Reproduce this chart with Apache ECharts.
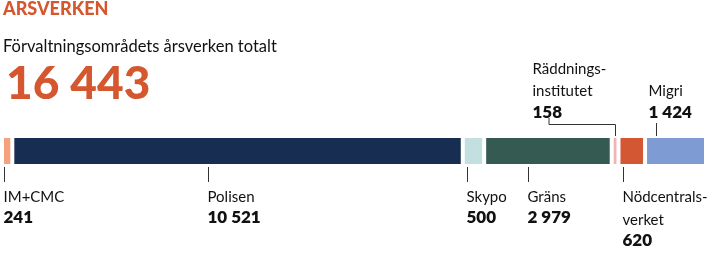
<!DOCTYPE html>
<html><head><meta charset="utf-8">
<script src="https://cdn.jsdelivr.net/npm/echarts@6/dist/echarts.min.js"></script>
<style>html,body{margin:0;padding:0;background:#fff}#c{width:708px;height:256px}</style>
</head><body><div id="c"></div>
<script>
// ---- data ----
const categories = ['IM+CMC','Polisen','Skypo','Gräns','Räddningsinstitutet','Nödcentralsverket','Migri'];
const values = [241, 10521, 500, 2979, 158, 620, 1424];
const total = 16443;
const nameLines = [['IM+CMC'],['Polisen'],['Skypo'],['Gräns'],['Räddnings-','institutet'],['Nödcentrals-','verket'],['Migri']];
const valueText = ['241','10 521','500','2 979','158','620','1 424'];
const colors = ['#f5a27c','#172d52','#c3dfdf','#345a52','#f4b3b3','#d45733','#7f9bd4'];
// ---- label layout (annotation placement) ----
const side = ['below','below','below','below','above','below','above'];
const anchorFrac = [0.2, 0.435, 0.22, 0.345, 0.5, 0.18, 0.18];
const FONT = 'Lato';

const chart = echarts.init(document.getElementById('c'));
const series = categories.map((c,i)=>({
  name: c, type:'bar', stack:'t', data:[values[i]], barWidth: 30,
  itemStyle:{color:colors[i], borderColor:'#fff', borderWidth:2},
  silent:true
}));
chart.setOption({
  animation:false,
  grid:{left:2,right:2,top:136,height:30},
  xAxis:{type:'value',min:0,max:total,show:false},
  yAxis:{type:'category',data:['a'],show:false},
  series
});

const g = [];
g.push({type:'text',left:3,top:0,style:{text:'ÅRSVERKEN',font:'900 18px '+FONT,fill:'#d4572f'}});
g.push({type:'text',left:3,top:38,style:{text:'Förvaltningsområdets årsverken totalt',font:'16.5px '+FONT,fill:'#111'}});
g.push({type:'text',left:6,top:61,style:{text:String(total).replace(/\B(?=(\d{3})+(?!\d))/g,' '),font:'900 46px '+FONT,fill:'#d4572f'}});

let cum = 0;
const lineStyle = {stroke:'#333',lineWidth:1};
values.forEach((v,i)=>{
  const x = Math.round(chart.convertToPixel({gridIndex:0},[cum + v*anchorFrac[i],0])[0]) + 0.5;
  cum += v;
  const n = nameLines[i];
  if (side[i]==='below') {
    g.push({type:'line',shape:{x1:x,y1:167,x2:x,y2:182},style:lineStyle});
    n.forEach((t,k)=>g.push({type:'text',x:x-1,y:197+23*k,style:{text:t,font:'15px '+FONT,fill:'#111',textVerticalAlign:'middle'}}));
    g.push({type:'text',x:x-1,y:197+23*(n.length-1)+21,style:{text:valueText[i],font:'800 17px '+FONT,fill:'#111',textVerticalAlign:'middle'}});
  } else {
    const numY = 113;
    let tx;
    if (n.length>1) {
      tx = x - 83;
      g.push({type:'polyline',shape:{points:[[tx+16.5,118],[tx+16.5,124.5],[x,124.5],[x,137]]},style:lineStyle});
    } else {
      tx = x - 8;
      g.push({type:'line',shape:{x1:x,y1:123,x2:x,y2:136},style:lineStyle});
    }
    n.forEach((t,k)=>g.push({type:'text',x:tx,y:numY-22*(n.length-k),style:{text:t,font:'15px '+FONT,fill:'#111',textVerticalAlign:'middle'}}));
    g.push({type:'text',x:tx,y:numY,style:{text:valueText[i],font:'800 17px '+FONT,fill:'#111',textVerticalAlign:'middle'}});
  }
});
chart.setOption({graphic:g});
</script></body></html>
